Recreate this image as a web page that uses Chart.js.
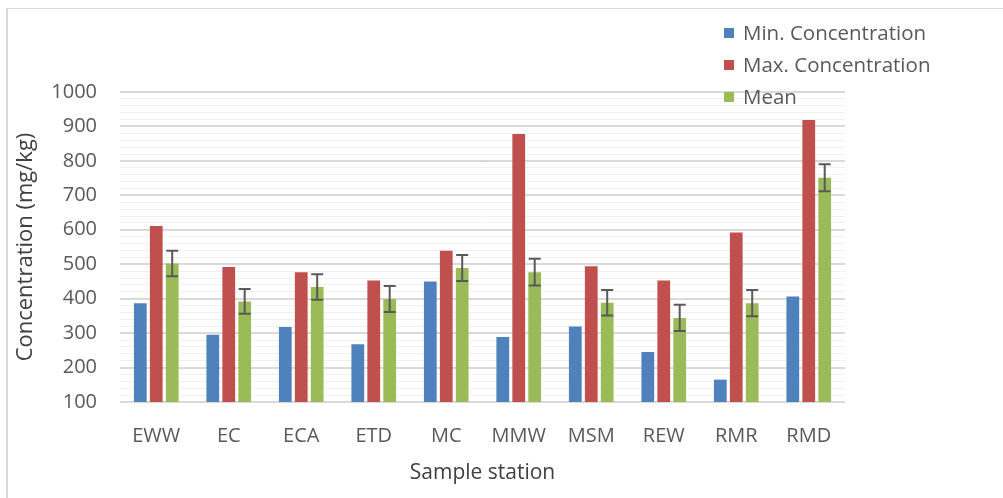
<!DOCTYPE html>
<html>
<head>
<meta charset="utf-8">
<script src="https://cdn.jsdelivr.net/npm/chart.js@4.4.1/dist/chart.umd.min.js"></script>
<style>
  html, body { margin: 0; padding: 0; background: #ffffff; }
  #wrap { position: relative; width: 1003px; height: 498px; overflow: hidden; }
  #frame { position: absolute; left: 6px; top: 8px; width: 1010px; height: 500px;
           border-top: 1px solid #d9d9d9; border-left: 2px solid #d9d9d9; box-sizing: border-box; }
  canvas { position: absolute; left: 0; top: 0; }
</style>
</head>
<body>
<div id="wrap">
  <div id="frame"></div>
  <canvas id="c" width="1003" height="498"></canvas>
</div>
<script>
const categories = ['EWW', 'EC', 'ECA', 'ETD', 'MC', 'MMW', 'MSM', 'REW', 'RMR', 'RMD'];
const minConcentration = [387, 295, 318, 268, 450, 289, 319, 245, 165, 406];
const maxConcentration = [611, 492, 477, 453, 539, 878, 494, 453, 592, 919];
const meanValues = [502, 392, 434, 399, 489, 477, 388, 344, 387, 751];
const meanErrors = [37, 36, 37, 38, 38, 39, 37, 38, 38, 39];
const seriesLabels = ['Min. Concentration', 'Max. Concentration', 'Mean'];
const seriesColors = ['#4f81bd', '#c0504d', '#9bbb59'];

const FONT = "'Open Sans', sans-serif";
const TEXT = '#595959';

const errorBarPlugin = {
  id: 'errorBars',
  afterDatasetsDraw(chart) {
    const meta = chart.getDatasetMeta(2);
    const y = chart.scales.y;
    const ctx = chart.ctx;
    ctx.save();
    ctx.strokeStyle = '#595959';
    ctx.lineWidth = 2;
    meta.data.forEach((bar, i) => {
      const v = meanValues[i], e = meanErrors[i];
      const yt = y.getPixelForValue(v + e);
      const yb = y.getPixelForValue(v - e);
      const x = bar.x;
      ctx.beginPath();
      ctx.moveTo(x, yt); ctx.lineTo(x, yb);
      ctx.moveTo(x - 6, yt); ctx.lineTo(x + 6, yt);
      ctx.moveTo(x - 6, yb); ctx.lineTo(x + 6, yb);
      ctx.stroke();
    });
    ctx.restore();
  }
};

const legendPlugin = {
  id: 'customLegend',
  afterDraw(chart) {
    const ctx = chart.ctx;
    ctx.save();
    ctx.font = '20.5px ' + FONT;
    ctx.textBaseline = 'middle';
    ctx.textAlign = 'left';
    const x0 = 724, rows = [33, 65, 97];
    chart.data.datasets.forEach((ds, i) => {
      ctx.fillStyle = ds.backgroundColor;
      ctx.fillRect(x0, rows[i] - 5, 10, 10);
      ctx.fillStyle = TEXT;
      ctx.fillText(ds.label, x0 + 19, rows[i] + 1);
    });
    ctx.restore();
  }
};

new Chart(document.getElementById('c'), {
  type: 'bar',
  data: {
    labels: categories,
    datasets: [
      { label: seriesLabels[0], data: minConcentration, backgroundColor: seriesColors[0] },
      { label: seriesLabels[1], data: maxConcentration, backgroundColor: seriesColors[1] },
      { label: seriesLabels[2], data: meanValues, backgroundColor: seriesColors[2] }
    ]
  },
  options: {
    responsive: false,
    animation: false,
    devicePixelRatio: 1,
    layout: { padding: { left: 0, top: 92, right: 158, bottom: 12 } },
    datasets: { bar: { categoryPercentage: 0.66, barPercentage: 0.8 } },
    plugins: { legend: { display: false }, tooltip: { enabled: false } },
    scales: {
      x: {
        grid: { display: false },
        border: { display: false },
        ticks: { color: TEXT, font: { family: FONT, size: 20 }, padding: 14, maxRotation: 0 },
        title: { display: true, text: 'Sample station', color: '#404040', font: { family: FONT, size: 21 }, padding: { top: 4, bottom: 0 } },
        afterFit(scale) { scale.height = 84; }
      },
      y: {
        min: 100, max: 1000,
        border: { display: false },
        grid: {
          drawTicks: false,
          color: (c) => (c.tick && c.tick.value % 100 === 0) ? '#d9d9d9' : '#f0f0f0',
          lineWidth: (c) => (c.tick && c.tick.value % 100 === 0) ? 2 : 1
        },
        ticks: {
          stepSize: 20, autoSkip: false, color: TEXT, padding: 23,
          font: { family: FONT, size: 20 },
          callback: (v) => (v % 100 === 0 ? v : '')
        },
        title: { display: true, text: 'Concentration (mg/kg)', color: '#404040', font: { family: FONT, size: 22 }, padding: { top: 13, bottom: 0 } },
        afterFit(scale) { scale.width = 120; }
      }
    }
  },
  plugins: [errorBarPlugin, legendPlugin]
});
</script>
</body>
</html>
